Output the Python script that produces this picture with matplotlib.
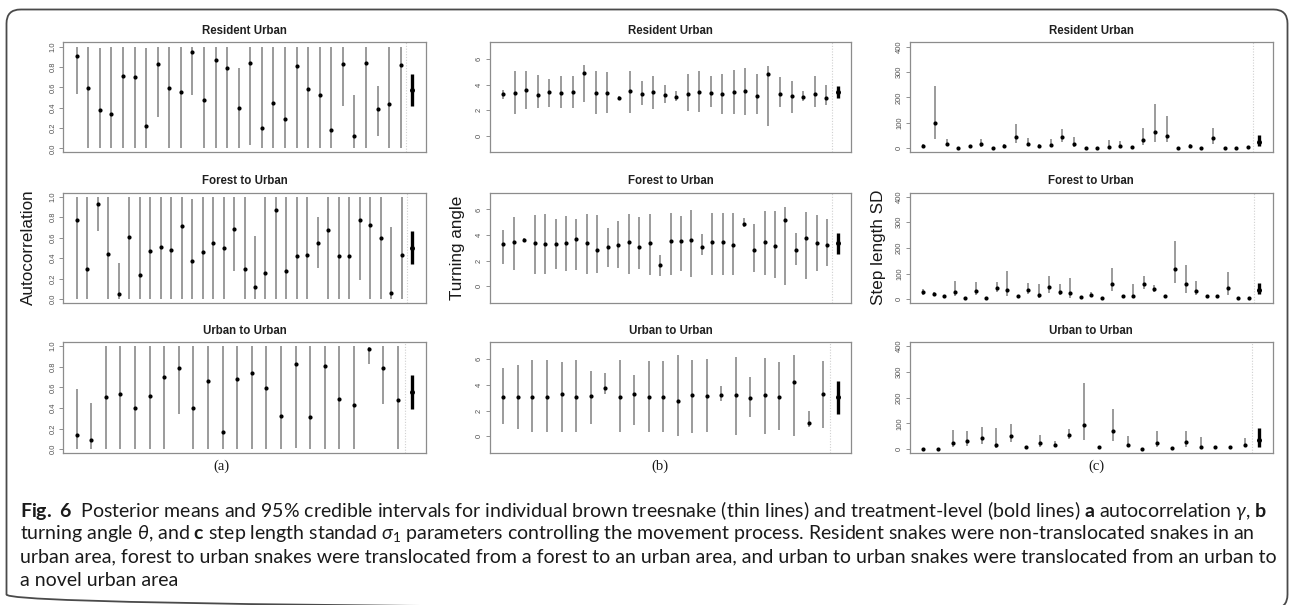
import numpy as np
import matplotlib
matplotlib.use("Agg")
import matplotlib.pyplot as plt
from matplotlib.patches import FancyBboxPatch

# ---------------------------------------------------------------------------
# Posterior means and 95% credible intervals (individual snakes + treatment)
# ---------------------------------------------------------------------------
treatments = ["Resident Urban", "Forest to Urban", "Urban to Urban"]
column_ylabels = ["Autocorrelation", "Turning angle", "Step length SD"]
panel_letters = ["(a)", "(b)", "(c)"]

# Autocorrelation gamma
ac_res_mean = [0.91, 0.59, 0.38, 0.34, 0.71, 0.70, 0.22, 0.83, 0.59, 0.55, 0.95, 0.48, 0.87, 0.79, 0.40,
               0.84, 0.20, 0.45, 0.29, 0.81, 0.58, 0.52, 0.18, 0.83, 0.12, 0.84, 0.39, 0.44, 0.82]
ac_res_low = [0.53, 0.0, 0.0, 0.0, 0.0, 0.0, 0.0, 0.31, 0.0, 0.0, 0.52, 0.0, 0.0, 0.0, 0.0,
              0.03, 0.0, 0.0, 0.0, 0.0, 0.0, 0.0, 0.0, 0.42, 0.0, 0.0, 0.12, 0.0, 0.0]
ac_res_high = [1.0, 1.0, 0.99, 1.0, 1.0, 1.0, 0.99, 1.0, 1.0, 1.0, 1.0, 1.0, 1.0, 1.0, 0.79,
               1.0, 1.0, 1.0, 1.0, 1.0, 1.0, 1.0, 1.0, 1.0, 0.52, 1.0, 0.61, 1.0, 1.0]
ac_res_trt = [0.57, 0.42, 0.73]

ac_for_mean = [0.77, 0.29, 0.93, 0.44, 0.05, 0.61, 0.24, 0.47, 0.51, 0.48, 0.71, 0.37, 0.46, 0.55, 0.50, 0.68,
               0.29, 0.12, 0.26, 0.87, 0.27, 0.42, 0.43, 0.55, 0.67, 0.42, 0.42, 0.77, 0.72, 0.60, 0.06, 0.43]
ac_for_low = [0.0, 0.0, 0.66, 0.0, 0.0, 0.0, 0.0, 0.0, 0.0, 0.0, 0.0, 0.0, 0.0, 0.0, 0.0, 0.27,
              0.0, 0.0, 0.0, 0.0, 0.0, 0.0, 0.0, 0.30, 0.0, 0.0, 0.0, 0.185, 0.0, 0.0, 0.0, 0.0]
ac_for_high = [1.0, 1.0, 1.0, 1.0, 0.35, 1.0, 1.0, 1.0, 1.0, 1.0, 1.0, 0.98, 1.0, 1.0, 1.0, 1.0,
               1.0, 0.62, 1.0, 1.0, 1.0, 1.0, 1.0, 0.80, 1.0, 1.0, 1.0, 1.0, 1.0, 1.0, 0.70, 1.0]
ac_for_trt = [0.50, 0.34, 0.66]

ac_urb_mean = [0.14, 0.09, 0.51, 0.54, 0.40, 0.52, 0.70, 0.79, 0.40, 0.66, 0.17, 0.68,
               0.74, 0.59, 0.32, 0.83, 0.31, 0.81, 0.49, 0.43, 0.97, 0.79, 0.48]
ac_urb_low = [0.0, 0.0, 0.0, 0.0, 0.0, 0.0, 0.0, 0.34, 0.0, 0.0, 0.0, 0.0,
              0.0, 0.0, 0.0, 0.01, 0.0, 0.0, 0.0, 0.0, 0.83, 0.44, 0.0]
ac_urb_high = [0.58, 0.45, 1.0, 1.0, 1.0, 1.0, 1.0, 1.0, 1.0, 1.0, 1.0, 1.0,
               1.0, 1.0, 1.0, 1.0, 1.0, 1.0, 1.0, 1.0, 0.99, 1.0, 1.0]
ac_urb_trt = [0.55, 0.39, 0.72]

# Turning angle theta
ta_res_mean = [3.25, 3.38, 3.58, 3.19, 3.40, 3.38, 3.40, 4.96, 3.38, 3.35, 2.99, 3.48, 3.27, 3.43, 3.22,
               3.06, 3.30, 3.40, 3.32, 3.25, 3.45, 3.48, 3.12, 4.86, 3.30, 3.09, 3.06, 3.27, 2.94]
ta_res_low = [2.90, 1.71, 2.10, 2.16, 2.29, 2.16, 2.20, 2.68, 1.71, 1.77, 2.83, 1.77, 2.42, 2.13, 2.55,
              2.75, 1.97, 1.84, 2.23, 1.71, 1.71, 1.64, 1.71, 0.73, 2.23, 1.82, 2.75, 2.29, 2.42]
ta_res_high = [3.60, 5.09, 5.09, 4.75, 4.49, 4.68, 4.65, 5.53, 5.09, 4.99, 3.14, 5.09, 4.29, 4.68, 3.97,
               3.51, 4.83, 5.06, 4.65, 4.86, 5.19, 5.30, 4.86, 5.48, 4.62, 4.29, 3.48, 4.65, 3.97]
ta_res_trt = [3.40, 2.94, 3.87]

ta_for_mean = [3.31, 3.49, 3.59, 3.41, 3.33, 3.28, 3.36, 3.72, 3.38, 2.85, 3.08, 3.21, 3.44, 3.05, 3.38, 1.67,
               3.54, 3.56, 3.59, 3.05, 3.44, 3.44, 3.26, 4.85, 2.85, 3.44, 3.18, 5.21, 2.87, 3.79, 3.38, 3.23]
ta_for_low = [1.74, 1.31, 3.44, 0.97, 0.97, 1.36, 1.23, 1.26, 0.97, 1.05, 1.51, 1.44, 1.00, 1.36, 0.92, 0.79,
              0.87, 1.18, 0.72, 2.41, 0.92, 0.92, 0.92, 4.62, 1.10, 0.85, 0.62, 0.08, 1.64, 0.59, 1.18, 1.56]
ta_for_high = [4.38, 5.41, 3.74, 5.59, 5.67, 5.26, 5.49, 5.28, 5.67, 5.59, 4.59, 5.08, 5.62, 5.41, 5.67, 2.41,
               5.72, 5.46, 5.92, 4.05, 5.72, 5.72, 5.72, 5.33, 4.87, 5.87, 5.87, 6.18, 4.13, 5.79, 5.54, 5.23]
ta_for_trt = [3.38, 2.54, 4.13]

ta_urb_mean = [3.08, 3.08, 3.08, 3.05, 3.29, 3.05, 3.10, 3.73, 3.05, 3.26, 3.03, 3.08,
               2.77, 3.21, 3.16, 3.21, 3.19, 3.00, 3.21, 3.05, 4.20, 1.04, 3.29]
ta_urb_low = [0.94, 0.57, 0.37, 0.37, 0.37, 0.37, 0.94, 3.29, 0.37, 0.89, 0.37, 0.37,
              0.00, 0.29, 0.37, 2.72, 0.10, 1.46, 0.16, 0.50, 0.00, 0.76, 0.68]
ta_urb_high = [5.33, 5.54, 5.90, 5.90, 5.80, 5.90, 5.07, 4.93, 5.93, 4.73, 5.85, 5.85,
               6.29, 5.93, 5.98, 3.94, 6.16, 4.62, 6.06, 5.77, 6.29, 1.93, 5.85]
ta_urb_trt = [3.08, 1.75, 4.33]

# Step length SD sigma_1
sl_res_mean = [11, 99, 18, 3, 8, 17, 3, 10, 44, 19, 10, 14, 44, 19, 3,
               3, 6, 9, 4, 34, 66, 49, 3, 10, 3, 39, 3, 3, 4]
sl_res_low = [6, 38, 8, 1, 4, 6, 1, 6, 23, 10, 6, 6, 27, 6, 1,
              1, 1, 1, 1, 14, 24, 27, 1, 6, 1, 16, 1, 1, 1]
sl_res_high = [18, 246, 37, 6, 14, 38, 6, 16, 94, 39, 16, 37, 77, 44, 6,
               6, 32, 30, 8, 80, 175, 129, 6, 16, 6, 80, 6, 6, 8]
sl_res_trt = [24, 9, 54]

sl_for_mean = [27, 21, 12, 28, 4, 31, 5, 44, 35, 12, 34, 17, 46, 30, 26, 10,
               18, 4, 61, 12, 12, 59, 40, 12, 116, 59, 32, 12, 12, 44, 4, 6]
sl_for_low = [18, 15, 8, 13, 1, 15, 1, 28, 13, 8, 21, 5, 23, 15, 6, 6,
              10, 1, 32, 8, 5, 41, 28, 8, 65, 26, 15, 8, 8, 15, 1, 2]
sl_for_high = [41, 28, 16, 70, 8, 67, 9, 67, 110, 16, 65, 61, 89, 61, 84, 14,
               28, 8, 123, 16, 61, 89, 57, 16, 228, 135, 71, 16, 16, 106, 8, 10]
sl_for_trt = [34, 21, 65]

sl_urb_mean = [2, 2, 25, 31, 43, 18, 50, 9, 23, 18, 55, 93,
               9, 72, 16, 1, 25, 3, 26, 7, 9, 9, 18]
sl_urb_low = [0, 0, 9, 13, 20, 4, 26, 5, 9, 9, 39, 35,
              5, 33, 7, 0, 9, 0, 7, 0, 5, 5, 7]
sl_urb_high = [5, 5, 74, 72, 85, 82, 98, 13, 55, 33, 78, 257,
               13, 156, 52, 4, 69, 6, 72, 46, 13, 13, 43]
sl_urb_trt = [35, 9, 82]

caption_lines = [
    r"$\mathbf{Fig.\ 6}$  Posterior means and 95% credible intervals for individual brown treesnake (thin lines) "
    r"and treatment-level (bold lines) $\mathbf{a}$ autocorrelation $\gamma$, $\mathbf{b}$",
    r"turning angle $\theta$, and $\mathbf{c}$ step length standad $\sigma_1$ parameters controlling the movement "
    r"process. Resident snakes were non-translocated snakes in an",
    "urban area, forest to urban snakes were translocated from a forest to an urban area, and urban to urban "
    "snakes were translocated from an urban to",
    "a novel urban area",
]

# ---------------------------------------------------------------------------
panels = {
    (0, 0): (ac_res_mean, ac_res_low, ac_res_high, ac_res_trt),
    (1, 0): (ac_for_mean, ac_for_low, ac_for_high, ac_for_trt),
    (2, 0): (ac_urb_mean, ac_urb_low, ac_urb_high, ac_urb_trt),
    (0, 1): (ta_res_mean, ta_res_low, ta_res_high, ta_res_trt),
    (1, 1): (ta_for_mean, ta_for_low, ta_for_high, ta_for_trt),
    (2, 1): (ta_urb_mean, ta_urb_low, ta_urb_high, ta_urb_trt),
    (0, 2): (sl_res_mean, sl_res_low, sl_res_high, sl_res_trt),
    (1, 2): (sl_for_mean, sl_for_low, sl_for_high, sl_for_trt),
    (2, 2): (sl_urb_mean, sl_urb_low, sl_urb_high, sl_urb_trt),
}
col_ylim = [(-0.04, 1.04), (-1.32, 7.32), (-16, 416)]
col_ticks = [[0.0, 0.2, 0.4, 0.6, 0.8, 1.0], [0, 2, 4, 6], [0, 100, 200, 300, 400]]
col_ticklabels = [["0.0", "0.2", "0.4", "0.6", "0.8", "1.0"], ["0", "2", "4", "6"],
                  ["0", "100", "200", "300", "400"]]

# pixel layout of the page
W, H = 1290, 605
col_x = [(63.3, 425.7), (490.0, 851.0), (910.0, 1272.7)]
row_y = [(42.5, 152.5), (192.5, 303.3), (342.0, 453.3)]

SANS = "Liberation Sans"
THIN = "#858585"

fig = plt.figure(figsize=(W / 100, H / 100), dpi=100)
fig.patch.set_facecolor("white")

# background axes in pixel units for the frame and free text
bg = fig.add_axes([0, 0, 1, 1])
bg.set_xlim(0, W)
bg.set_ylim(H, 0)
bg.axis("off")
bg.set_zorder(-5)

frame = FancyBboxPatch((6.5, 9.5), 1281, 599, boxstyle="round,pad=0,rounding_size=14",
                       fill=False, ec="#4a4a4a", lw=1.3)
bg.add_patch(frame)


def px_rect(x0, x1, y0, y1):
    return [x0 / W, 1 - y1 / H, (x1 - x0) / W, (y1 - y0) / H]


for (r, c), (mean, low, high, trt) in panels.items():
    x0, x1 = col_x[c]
    y0, y1 = row_y[r]
    ax = fig.add_axes(px_rect(x0, x1, y0, y1))
    n = len(mean)
    xs = np.arange(1, n + 1)
    ax.vlines(xs, low, high, color=THIN, lw=1.15, zorder=2)
    ax.plot(xs, mean, "o", ms=3.0, color="black", mec="none", zorder=3)
    xt = n + 1
    ax.vlines([xt], [trt[1]], [trt[2]], color="black", lw=2.4, zorder=2)
    ax.plot([xt], [trt[0]], "o", ms=3.6, color="black", mec="none", zorder=3)
    ax.axvline(n + 0.5, color="#d0d0d0", lw=0.8, ls=(0, (1, 1.5)), zorder=1)
    pad = 0.04 * n
    ax.set_xlim(1 - pad, n + 1 + pad)
    ax.set_ylim(*col_ylim[c])
    ax.set_xticks([])
    ax.set_yticks(col_ticks[c])
    ax.set_yticklabels(col_ticklabels[c], family=SANS)
    ax.tick_params(axis="y", length=3, width=0.6, color="#808080", pad=2.0,
                   labelsize=5.4, labelcolor="#505050", labelrotation=90)
    for lab in ax.get_yticklabels():
        lab.set_va("center")
    for sp in ax.spines.values():
        sp.set_color("#8c8c8c")
        sp.set_linewidth(0.9)
    bg.text((x0 + x1) / 2, y0 - 11.3, treatments[r], ha="center", va="center",
            fontsize=8.3, fontweight="bold", family=SANS, color="#202020")

# column axis titles
ylabel_x = [28.7, 457.5, 878.0]
for c in range(3):
    bg.text(ylabel_x[c], 247.5, column_ylabels[c], rotation=90, ha="center", va="center",
            fontsize=12.3, family=SANS, color="#1a1a1a")

# sub-figure letters
letter_x = [221, 660, 1096]
for c in range(3):
    bg.text(letter_x[c], 466, panel_letters[c], ha="center", va="center",
            fontsize=10.5, family="Liberation Serif", color="#1a1a1a")

# caption
plt.rcParams["mathtext.fontset"] = "custom"
plt.rcParams["mathtext.rm"] = "Lato"
plt.rcParams["mathtext.it"] = "Lato:italic"
plt.rcParams["mathtext.bf"] = "Lato:bold"

cap_y = [511, 534, 557, 580]
cap_texts = []
for i, line in enumerate(caption_lines):
    t = bg.text(20, cap_y[i], line, ha="left", va="center", fontsize=12, family="Lato",
                color="#1a1a1a")
    cap_texts.append(t)

fig.canvas.draw()
renderer = fig.canvas.get_renderer()
w1 = cap_texts[0].get_window_extent(renderer).width
scale = (1262 - 20) / w1
for t in cap_texts:
    t.set_fontsize(12 * scale)

fig.savefig("out.png", dpi=100, facecolor="white")
